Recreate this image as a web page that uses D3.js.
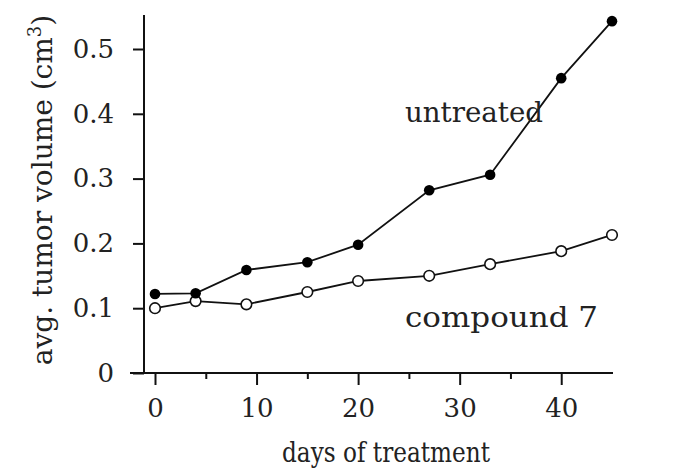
<!DOCTYPE html>
<html>
<head>
<meta charset="utf-8">
<script src="https://cdn.jsdelivr.net/npm/d3@7"></script>
<style>
  body { margin: 0; background: #fff; }
  svg text { font-family: "DejaVu Serif", serif; fill: #222; }
</style>
</head>
<body>
<svg id="svg" width="678" height="470"></svg>
<script>
// data
const days = [0, 4, 9, 15, 20, 27, 33, 40, 45];
const untreated = [0.122, 0.123, 0.159, 0.171, 0.198, 0.282, 0.306, 0.455, 0.543];
const compound7 = [0.100, 0.111, 0.106, 0.125, 0.142, 0.150, 0.168, 0.188, 0.213];
const yTicks = [0, 0.1, 0.2, 0.3, 0.4, 0.5];
const xMajor = [0, 10, 20, 30, 40];
const xMinor = [5, 15, 25, 35];

const svg = d3.select('#svg');

// scales
let x = d3.scaleLinear().domain([0, 45]).range([155, 612]);
let y = d3.scaleLinear().domain([0, 0.5]).range([373, 49]);

// y axis
const yAxis = svg.append('g').attr('transform', 'translate(144,0)')
    .call(d3.axisLeft(y).tickValues(yTicks).tickSize(11).tickPadding(19)
        .tickFormat(d => d === 0 ? '0' : d3.format('.1f')(d)));
yAxis.select('.domain').remove();
yAxis.selectAll('.tick line').attr('stroke', '#111').attr('stroke-width', 2);
yAxis.selectAll('.tick text').attr('font-size', 26).attr('fill', '#222')
    .attr('font-family', '"DejaVu Serif", serif');
svg.append('line')
    .attr('x1', 144).attr('x2', 144).attr('y1', 15).attr('y2', 374)
    .attr('stroke', '#111').attr('stroke-width', 2);

// x axis
const xAxis = svg.append('g').attr('transform', 'translate(0,373)')
    .call(d3.axisBottom(x).tickValues(xMajor).tickSize(12).tickPadding(14));
xAxis.select('.domain').remove();
xAxis.selectAll('.tick line').attr('stroke', '#111').attr('stroke-width', 2);
xAxis.selectAll('.tick text').attr('font-size', 26).attr('fill', '#222')
    .attr('font-family', '"DejaVu Serif", serif');
const xMin = svg.append('g').attr('transform', 'translate(0,373)')
    .call(d3.axisBottom(x).tickValues(xMinor).tickSize(6).tickFormat(''));
xMin.select('.domain').remove();
xMin.selectAll('.tick line').attr('stroke', '#111').attr('stroke-width', 2);
svg.append('line')
    .attr('x1', 130).attr('x2', x(45) + 1).attr('y1', 373).attr('y2', 373)
    .attr('stroke', '#111').attr('stroke-width', 2);

// lines
const line = d3.line().x((d, i) => x(days[i])).y(d => y(d));

svg.append('path').datum(compound7)
    .attr('d', line).attr('fill', 'none').attr('stroke', '#111').attr('stroke-width', 1.8);
svg.append('path').datum(untreated)
    .attr('d', line).attr('fill', 'none').attr('stroke', '#111').attr('stroke-width', 1.8);

svg.selectAll('.open').data(compound7).join('circle')
    .attr('class', 'open')
    .attr('cx', (d, i) => x(days[i])).attr('cy', d => y(d)).attr('r', 5.3)
    .attr('fill', '#fff').attr('stroke', '#111').attr('stroke-width', 1.6);
svg.selectAll('.filled').data(untreated).join('circle')
    .attr('class', 'filled')
    .attr('cx', (d, i) => x(days[i])).attr('cy', d => y(d)).attr('r', 5.3)
    .attr('fill', '#000');

// series labels
svg.append('text').attr('x', 405).attr('y', 122).attr('font-size', 27)
    .attr('textLength', 138).attr('lengthAdjust', 'spacingAndGlyphs').text('untreated');
svg.append('text').attr('x', 405).attr('y', 327).attr('font-size', 27)
    .attr('textLength', 193).attr('lengthAdjust', 'spacingAndGlyphs').text('compound 7');

// axis titles
svg.append('text').attr('x', 386).attr('y', 462).attr('font-size', 28)
    .attr('textLength', 208).attr('lengthAdjust', 'spacingAndGlyphs')
    .attr('text-anchor', 'middle').text('days of treatment');
const yt = svg.append('text')
    .attr('transform', 'translate(52,190) rotate(-90)')
    .attr('font-size', 28).attr('text-anchor', 'middle');
yt.append('tspan').text('avg. tumor volume (cm');
yt.append('tspan').attr('font-size', 18).attr('dy', -11).text('3');
yt.append('tspan').attr('dy', 11).text(')');
</script>
</body>
</html>
